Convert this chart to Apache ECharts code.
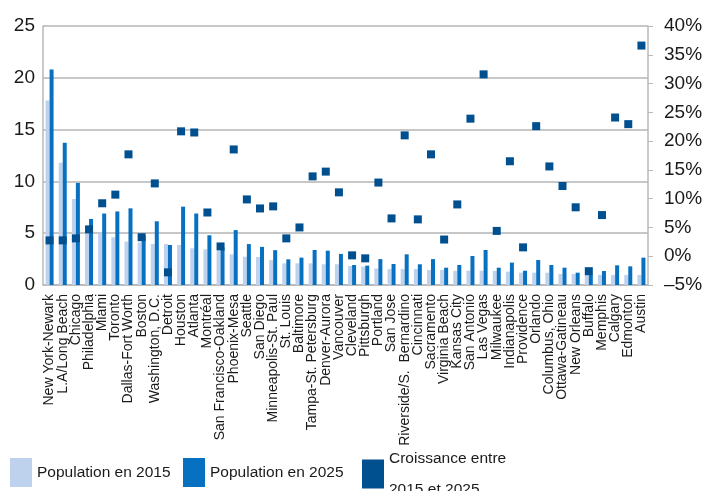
<!DOCTYPE html>
<html>
<head>
<meta charset="utf-8">
<script src="https://cdn.jsdelivr.net/npm/echarts@6/dist/echarts.min.js"></script>
<style>
  html, body { margin: 0; padding: 0; background: #fff; }
  #chart { width: 706px; height: 491px; }
</style>
</head>
<body>
<div id="chart"></div>
<script>
  // villes (ordre de l'axe)
  const cities = [
    'New York-Newark', 'L.A/Long Beach', 'Chicago', 'Philadelphia', 'Miami', 'Toronto',
    'Dallas-Fort Worth', 'Boston', 'Washington, D.C.', 'Detroit', 'Houston', 'Atlanta',
    'Montréal', 'San Francisco-Oakland', 'Phoenix-Mesa', 'Seattle', 'San Diego',
    'Minneapolis-St. Paul', 'St. Louis', 'Baltimore', 'Tampa-St. Petersburg', 'Denver-Aurora',
    'Vancouver', 'Cleveland', 'Pittsburgh', 'Portland', 'San Jose', 'Riverside/S.  Bernardino',
    'Cincinnati', 'Sacramento', 'Virginia Beach', 'Kansas City', 'San Antonio', 'Las Vegas',
    'Milwaukee', 'Indianapolis', 'Providence', 'Orlando', 'Columbus, Ohio', 'Ottawa-Gatineau',
    'New Orleans', 'Buffalo', 'Memphis', 'Calgary', 'Edmonton', 'Austin'
  ];
  // population (millions)
  const pop2015 = [17.8, 11.8, 8.3, 5.05, 5.0, 4.6, 4.2, 4.1, 3.96, 3.96, 3.86, 3.54, 3.44, 3.28,
    2.96, 2.73, 2.7, 2.4, 2.09, 2.09, 2.09, 2.0, 2.0, 1.83, 1.77, 1.6, 1.54, 1.54, 1.54, 1.45,
    1.45, 1.38, 1.38, 1.38, 1.36, 1.29, 1.19, 1.19, 1.19, 1.06, 1.06, 0.97, 0.97, 0.97, 0.97, 0.97];
  const pop2025 = [20.8, 13.74, 9.85, 6.37, 6.9, 7.1, 7.4, 4.75, 6.15, 3.86, 7.56, 6.9, 4.8, 3.63,
    5.3, 3.95, 3.68, 3.36, 2.48, 2.64, 3.38, 3.31, 3.0, 1.93, 1.87, 2.5, 2.03, 2.96, 2.0, 2.5,
    1.67, 1.93, 2.8, 3.38, 1.67, 2.16, 1.38, 2.41, 1.93, 1.67, 1.19, 0.97, 1.35, 1.9, 1.8, 2.64];
  // croissance 2015-2025 (%)
  const growth = [2.75, 2.75, 3.1, 4.66, 9.2, 10.7, 17.7, 3.3, 12.65, -2.8, 21.7, 21.5, 7.6, 1.7,
    18.55, 9.87, 8.3, 8.66, 3.1, 5.0, 13.87, 14.7, 11.1, 0.15, -0.37, 12.8, 6.57, 21.0, 6.4, 17.7,
    2.9, 9.0, 23.9, 31.6, 4.4, 16.5, 1.54, 22.6, 15.6, 12.2, 8.5, -2.6, 7.15, 24.1, 22.95, 36.6];

  const names = ['Population en 2015', 'Population en 2025', 'Croissance entre\n2015 et 2025'];
  const font = 'Liberation Sans, Arial, sans-serif';

  // une légende par élément, pour les placer comme dans l'original
  function legendAt(name, left, top, lineHeight) {
    return {
      left: left,
      top: top,
      itemWidth: 22,
      itemHeight: 29,
      icon: 'rect',
      textStyle: { fontSize: 15.5, color: '#1a1a1a', lineHeight: lineHeight, fontFamily: font },
      data: [name]
    };
  }

  const chart = echarts.init(document.getElementById('chart'));
  chart.setOption({
    backgroundColor: '#fff',
    animation: false,
    textStyle: { fontFamily: font },
    grid: { left: 43, right: 58, top: 26, bottom: 206 },
    legend: [
      legendAt(names[0], 5, 453, 24),
      legendAt(names[1], 178, 453, 24),
      legendAt(names[2], 357, 438, 31)
    ],
    xAxis: {
      type: 'category',
      data: cities,
      axisLine: { lineStyle: { color: '#b8b8b8', width: 1.5 } },
      axisTick: { interval: 0, length: 5, lineStyle: { color: '#b8b8b8' } },
      axisLabel: { interval: 0, rotate: 90, fontSize: 14, color: '#1a1a1a', margin: 9 }
    },
    yAxis: [
      {
        type: 'value', min: 0, max: 25, interval: 5,
        axisLine: { show: true, lineStyle: { color: '#b8b8b8', width: 1.5 } },
        axisTick: { show: false },
        axisLabel: { fontSize: 19, color: '#1a1a1a', margin: 8 },
        splitLine: { lineStyle: { color: '#b4b4b4', width: 1.5 } }
      },
      {
        type: 'value', min: -5, max: 40, interval: 5, position: 'right',
        axisLine: { show: true, lineStyle: { color: '#b8b8b8', width: 1.5 } },
        axisTick: { show: true, length: 5, lineStyle: { color: '#b8b8b8' } },
        axisLabel: {
          fontSize: 19, color: '#1a1a1a', margin: 16,
          formatter: v => String(v).replace('-', '–') + '%'
        },
        splitLine: { show: false }
      }
    ],
    series: [
      {
        name: names[0], type: 'bar', data: pop2015,
        barWidth: 4, barGap: '0%',
        itemStyle: { color: '#bed1ed' }
      },
      {
        name: names[1], type: 'bar', data: pop2025,
        barWidth: 4,
        itemStyle: { color: '#0870c0' }
      },
      {
        name: names[2], type: 'scatter', yAxisIndex: 1, data: growth,
        symbol: 'rect', symbolSize: 8,
        itemStyle: { color: '#004f8f', opacity: 1 }
      }
    ]
  });
</script>
</body>
</html>
